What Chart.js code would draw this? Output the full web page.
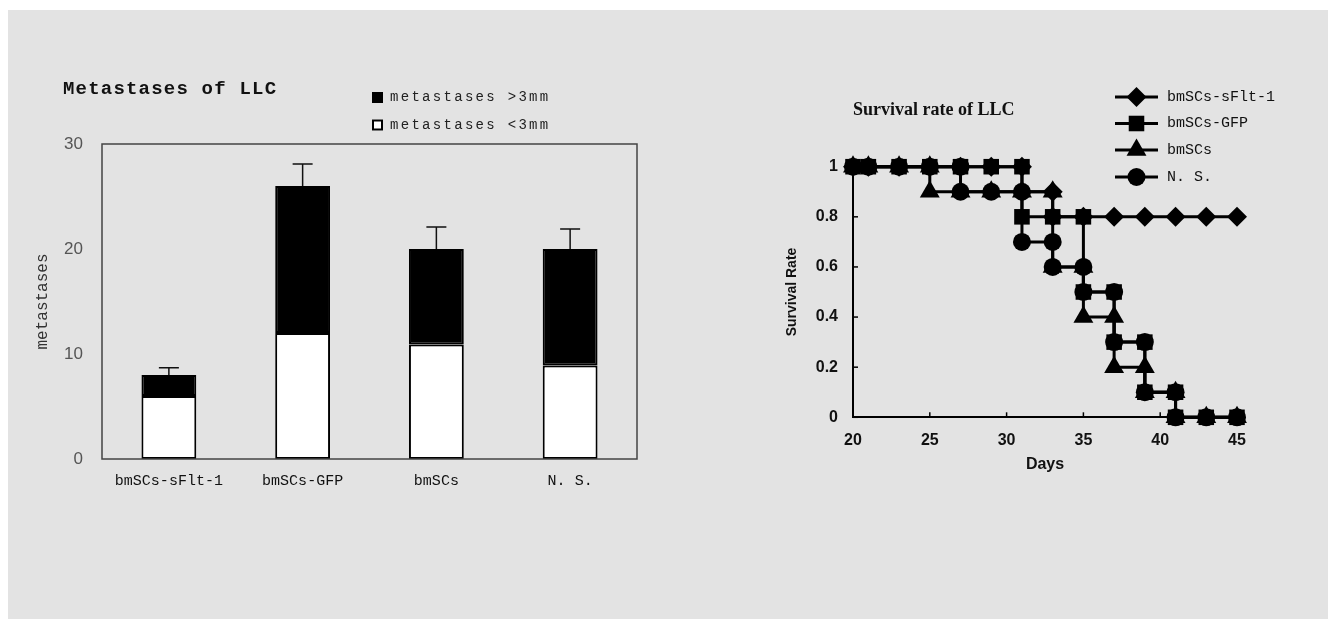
<!DOCTYPE html>
<html><head><meta charset="utf-8">
<script src="https://cdn.jsdelivr.net/npm/chart.js@4/dist/chart.umd.min.js"></script>
<style>
html,body{margin:0;padding:0;background:#fff;width:1328px;height:619px;overflow:hidden}
#bg{position:absolute;left:8px;top:10px;width:1320px;height:609px;background:#e3e3e3}
#c1{position:absolute;left:0;top:0;width:700px;height:619px}
#c2{position:absolute;left:700px;top:0;width:628px;height:619px}
</style></head><body>
<div id="bg"></div>
<canvas id="c1" width="700" height="619"></canvas>
<canvas id="c2" width="628" height="619"></canvas>
<script>
// ---------- Left chart data ----------
const barTitle = 'Metastases of LLC';
const groups = ['bmSCs-sFlt-1', 'bmSCs-GFP', 'bmSCs', 'N. S.'];
const smallMets = [6, 12, 10.9, 8.9];      // metastases <3mm (white)
const largeMets = [2, 14, 9.1, 11.1];      // metastases >3mm (black)
const errUp = [0.7, 2.1, 2.1, 1.9];
const barYTitle = 'metastases';

// ---------- Right chart data ----------
const survTitle = 'Survival rate of LLC';
const seriesNames = ['bmSCs-sFlt-1', 'bmSCs-GFP', 'bmSCs', 'N. S.'];
const sflt1Days = [20,21,23,25,27,29,31,31,33,33,35,37,39,41,43,45];
const sflt1Rate = [1,1,1,1,1,1,1,0.9,0.9,0.8,0.8,0.8,0.8,0.8,0.8,0.8];
const gfpDays = [20,21,23,25,27,29,31,31,33,35,35,37,37,39,39,41,41,43,45];
const gfpRate = [1,1,1,1,1,1,1,0.8,0.8,0.8,0.5,0.5,0.3,0.3,0.1,0.1,0,0,0];
const bmDays = [20,21,23,25,25,27,29,31,33,33,35,35,37,37,39,39,41,41,43,45];
const bmRate = [1,1,1,1,0.9,0.9,0.9,0.9,0.9,0.6,0.6,0.4,0.4,0.2,0.2,0.1,0.1,0,0,0];
const nsDays = [20,21,23,25,27,27,29,31,31,33,33,35,35,37,37,39,39,41,41,43,45];
const nsRate = [1,1,1,1,1,0.9,0.9,0.9,0.7,0.7,0.6,0.6,0.5,0.5,0.3,0.3,0.1,0.1,0,0,0];
const survXTitle = 'Days';
const survYTitle = 'Survival Rate';

const toXY = (d, r) => d.map((x, i) => ({x, y: r[i]}));

// ---------- Left chart ----------
const barPlugin = {
  id: 'barExtras',
  afterDatasetsDraw(chart) {
    const {ctx, chartArea: a, scales: {y}} = chart;
    const meta = chart.getDatasetMeta(1);
    ctx.save();
    ctx.strokeStyle = '#111'; ctx.lineWidth = 1.5;
    meta.data.forEach((bar, i) => {
      const tot = smallMets[i] + largeMets[i];
      const y0 = y.getPixelForValue(tot), y1 = y.getPixelForValue(tot + errUp[i]);
      ctx.beginPath();
      ctx.moveTo(bar.x, y0); ctx.lineTo(bar.x, y1);
      ctx.moveTo(bar.x - 10, y1); ctx.lineTo(bar.x + 10, y1);
      ctx.stroke();
    });
    // frame
    ctx.strokeStyle = '#444'; ctx.lineWidth = 1.5;
    ctx.strokeRect(a.left, a.top, a.right - a.left, a.bottom - a.top);
    // title
    ctx.fillStyle = '#111';
    ctx.font = 'bold 19px "Liberation Mono", monospace';
    ctx.letterSpacing = '1.2px';
    ctx.textBaseline = 'middle'; ctx.textAlign = 'left';
    ctx.fillText(barTitle, 63, 89);
    // legend
    ctx.font = '14px "Liberation Mono", monospace';
    ctx.letterSpacing = '2.3px';
    const items = [chart.data.datasets[1], chart.data.datasets[0]];
    items.forEach((ds, k) => {
      const cy = 97.5 + k * 27.5;
      ctx.fillStyle = ds.backgroundColor;
      ctx.fillRect(372, cy - 5.5, 11, 11);
      ctx.strokeStyle = '#000'; ctx.lineWidth = 2;
      ctx.strokeRect(373, cy - 4.5, 9, 9);
      ctx.fillStyle = '#222';
      ctx.fillText(ds.label, 390, cy);
    });
    ctx.restore();
  }
};

new Chart(document.getElementById('c1'), {
  type: 'bar',
  data: {
    labels: groups,
    datasets: [
      {label: 'metastases <3mm', data: smallMets, backgroundColor: '#ffffff', borderColor: '#000', borderWidth: 2, borderSkipped: false},
      {label: 'metastases >3mm', data: largeMets, backgroundColor: '#000000', borderColor: '#000', borderWidth: 2, borderSkipped: false}
    ]
  },
  options: {
    responsive: false, animation: false,
    layout: {padding: {top: 144, right: 63, bottom: 100, left: 0}},
    datasets: {bar: {categoryPercentage: 1, barPercentage: 0.41}},
    plugins: {legend: {display: false}, tooltip: {enabled: false}},
    scales: {
      x: {
        stacked: true,
        grid: {display: false, drawTicks: false},
        border: {display: false},
        ticks: {padding: 13, color: '#111', font: {family: '"Liberation Mono", monospace', size: 15}},
        afterFit: s => { s.height = 60; }
      },
      y: {
        stacked: true, min: 0, max: 30,
        grid: {display: false, drawTicks: false},
        border: {display: false},
        ticks: {stepSize: 10, padding: 19, color: '#555', font: {family: '"Liberation Sans", Arial, sans-serif', size: 17}},
        title: {display: true, text: barYTitle, color: '#333', padding: {top: 33}, font: {family: '"Liberation Mono", monospace', size: 16}},
        afterFit: s => { s.width = 102; }
      }
    }
  },
  plugins: [barPlugin]
});

// ---------- Right chart ----------
const styles = ['rectRot', 'rect', 'triangle', 'circle'];
const radii = [10, 11, 11.5, 9];
const survPlugin = {
  id: 'survExtras',
  afterDraw(chart) {
    const {ctx, chartArea: a, scales: {x, y}} = chart;
    ctx.save();
    ctx.strokeStyle = '#000'; ctx.lineWidth = 1.5;
    // inner tick marks
    y.ticks.forEach(t => {
      const py = y.getPixelForValue(t.value);
      ctx.beginPath(); ctx.moveTo(a.left, py); ctx.lineTo(a.left + 5, py); ctx.stroke();
    });
    x.ticks.forEach(t => {
      const px = x.getPixelForValue(t.value);
      ctx.beginPath(); ctx.moveTo(px, a.bottom); ctx.lineTo(px, a.bottom - 5); ctx.stroke();
    });
    // title
    ctx.fillStyle = '#111';
    ctx.font = 'bold 18px "Liberation Serif", serif';
    ctx.textBaseline = 'middle'; ctx.textAlign = 'left';
    ctx.fillText(survTitle, 153, 110);
    // legend
    ctx.font = '15px "Liberation Mono", monospace';
    const rows = [97, 123.5, 150, 177];
    chart.data.datasets.forEach((ds, i) => {
      const cy = rows[i];
      ctx.strokeStyle = '#000'; ctx.lineWidth = 3;
      ctx.beginPath(); ctx.moveTo(415, cy); ctx.lineTo(458, cy); ctx.stroke();
      ctx.fillStyle = '#000';
      Chart.helpers.drawPoint(ctx, {pointStyle: styles[i], radius: radii[i], rotation: 0, borderWidth: 0}, 436.5, cy);
      ctx.fillStyle = '#111';
      ctx.fillText(ds.label, 467, cy);
    });
    ctx.restore();
  }
};

const seriesData = [toXY(sflt1Days, sflt1Rate), toXY(gfpDays, gfpRate), toXY(bmDays, bmRate), toXY(nsDays, nsRate)];
new Chart(document.getElementById('c2'), {
  type: 'line',
  data: {
    datasets: seriesData.map((d, i) => ({
      label: seriesNames[i], data: d,
      borderColor: '#000', backgroundColor: '#000', borderWidth: 3,
      pointStyle: styles[i], pointRadius: radii[i], pointBackgroundColor: '#000', pointBorderWidth: 0,
      tension: 0, clip: false
    }))
  },
  options: {
    responsive: false, animation: false,
    layout: {padding: {top: 166.7, right: 91, bottom: 130, left: 0}},
    plugins: {legend: {display: false}, tooltip: {enabled: false}},
    scales: {
      x: {
        type: 'linear', min: 20, max: 45,
        grid: {display: false, drawTicks: false},
        border: {display: true, color: '#000', width: 2},
        ticks: {stepSize: 5, padding: 14, color: '#111', font: {family: '"Liberation Sans", Arial, sans-serif', size: 16, weight: 'bold'}},
        title: {display: true, text: survXTitle, color: '#111', padding: {bottom: 15}, font: {family: '"Liberation Sans", Arial, sans-serif', size: 16, weight: 'bold'}},
        afterFit: s => { s.height = 71.7; }
      },
      y: {
        min: 0, max: 1,
        grid: {display: false, drawTicks: false},
        border: {display: true, color: '#000', width: 2},
        ticks: {stepSize: 0.2, padding: 15, color: '#111', callback: v => String(Number(v.toFixed(1))), font: {family: '"Liberation Sans", Arial, sans-serif', size: 16, weight: 'bold'}},
        title: {display: true, text: survYTitle, color: '#111', padding: {top: 84}, font: {family: '"Liberation Sans", Arial, sans-serif', size: 14, weight: 'bold'}},
        afterFit: s => { s.width = 153; }
      }
    }
  },
  plugins: [survPlugin]
});
</script>
</body></html>
